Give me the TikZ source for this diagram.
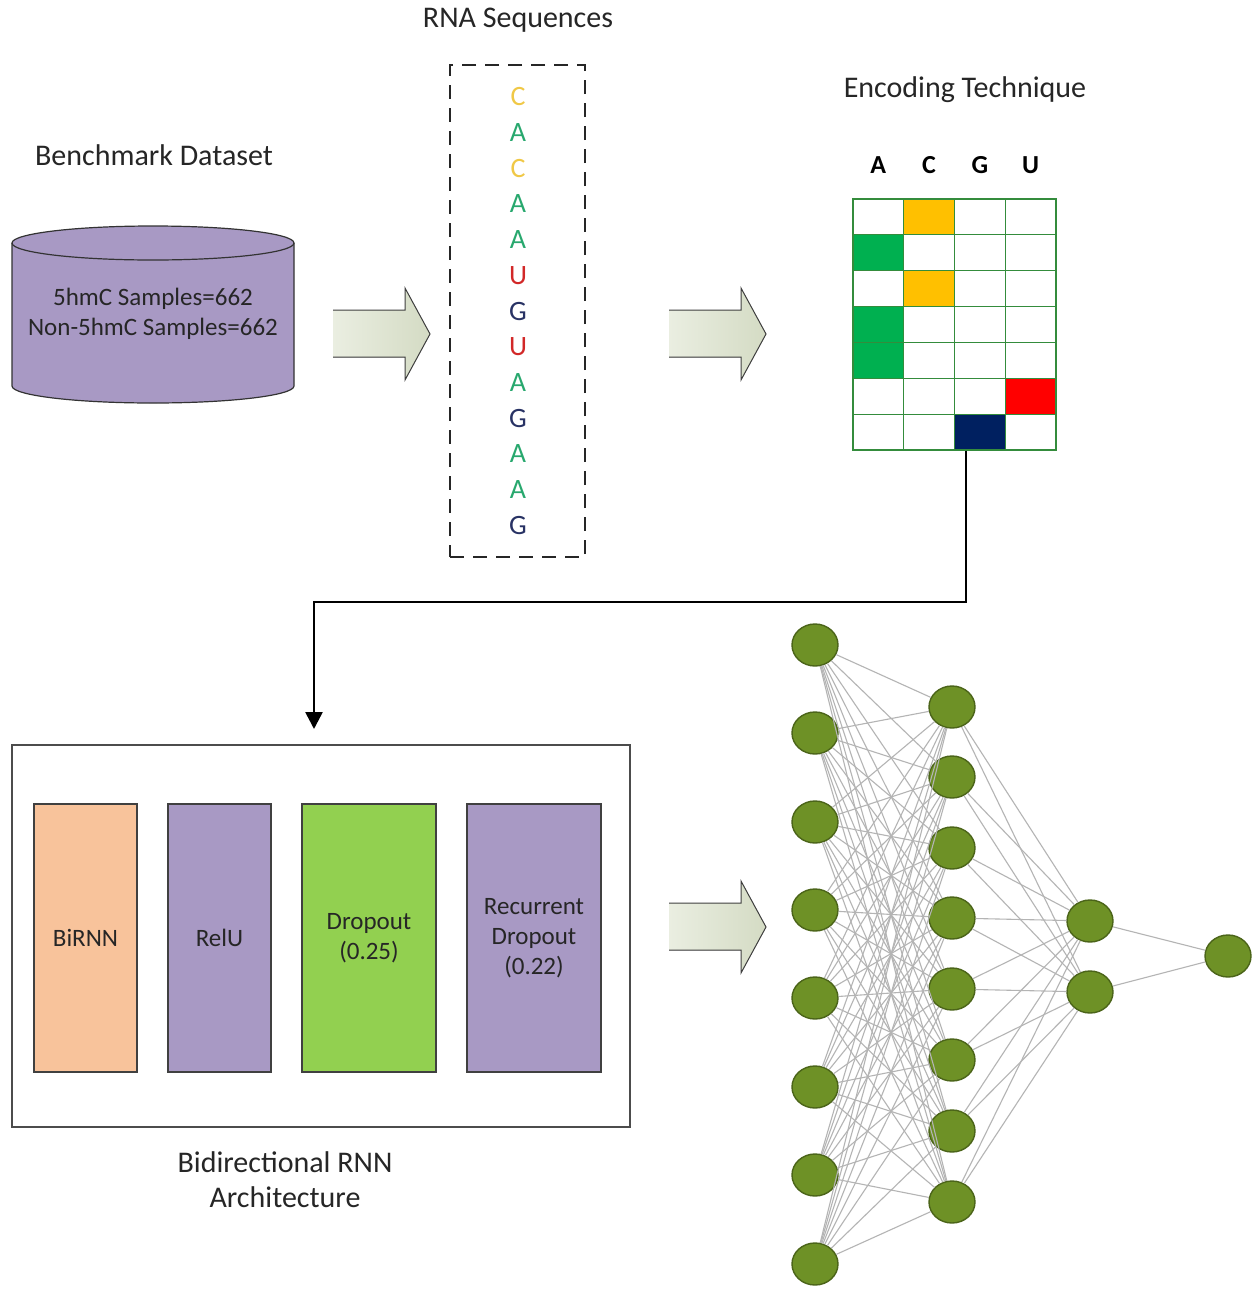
\documentclass[tikz,border=0pt]{standalone}
\usepackage{fontspec}
\setmainfont{Carlito}
\usetikzlibrary{arrows.meta,shapes.geometric}

\definecolor{txt}{RGB}{38,38,38}
\definecolor{dbpurple}{RGB}{168,153,196}
\definecolor{peach}{RGB}{248,195,155}
\definecolor{limegreen}{RGB}{146,208,80}
\definecolor{sageL}{RGB}{234,238,225}
\definecolor{sageD}{RGB}{212,219,196}
\definecolor{gridgreen}{RGB}{52,140,60}
\definecolor{cellyellow}{RGB}{255,192,0}
\definecolor{cellgreen}{RGB}{0,176,80}
\definecolor{cellred}{RGB}{255,0,0}
\definecolor{cellnavy}{RGB}{0,32,96}
\definecolor{ntC}{RGB}{240,200,70}
\definecolor{ntA}{RGB}{40,168,110}
\definecolor{ntU}{RGB}{210,40,40}
\definecolor{ntG}{RGB}{40,50,100}
\definecolor{neuron}{RGB}{110,145,38}
\definecolor{neuronedge}{RGB}{75,100,25}
\definecolor{synapse}{RGB}{180,180,180}

\tikzset{
  title/.style={text=txt, font=\fontsize{30}{36}\selectfont, inner sep=0pt},
  blockarrow/.style={left color=sageL, right color=sageD, draw=none},
  blockedge/.style={draw=black!75, line width=1pt, line join=miter},
  nt/.style={font=\fontsize{28}{32}\selectfont, inner sep=0pt},
  cell/.style={draw=gridgreen, line width=1.2pt, minimum width=50.75pt, minimum height=35.86pt, inner sep=0pt},
  head/.style={font=\bfseries\fontsize{26}{30}\selectfont, text=black, inner sep=0pt},
  layer/.style={draw=black!75, line width=1.2pt, minimum height=268pt, inner sep=0pt, align=center,
                text=txt, font=\fontsize{25}{30}\selectfont},
  neuronnode/.style={ellipse, draw=neuronedge, line width=1.4pt, fill=neuron, minimum width=46pt, minimum height=42pt, inner sep=0pt},
  synapseline/.style={draw=synapse, line width=1.1pt}
}

\begin{document}
\begin{tikzpicture}[x=1pt,y=-1pt]
\useasboundingbox[fill=white] (0,0) rectangle (1256,1291);

% ---------- benchmark dataset cylinder ----------
\node[title] (benchT) at (154,155) {Benchmark Dataset};
\fill[dbpurple] (12,243) -- (12,386) arc[start angle=180, end angle=360, x radius=141pt, y radius=17pt]
  -- (294,243) arc[start angle=0, end angle=180, x radius=141pt, y radius=17pt] -- cycle;
\draw[black!80, line width=1.2pt] (12,243) -- (12,386) arc[start angle=180, end angle=360, x radius=141pt, y radius=17pt]
  -- (294,243);
\draw[black!80, line width=1.2pt] (153,243) ellipse[x radius=141pt, y radius=17pt];
\node[text=txt, font=\fontsize{25}{30}\selectfont, align=center, inner sep=0pt] (db) at (153,314)
  {5hmC Samples=662\\Non-5hmC Samples=662};

% ---------- block arrows ----------
\foreach \ax/\ay/\nm in {333/334/arrA, 669/334/arrB, 669/927/arrC}{
  \fill[blockarrow] (\ax,\ay-24) -- (\ax+72,\ay-24) -- (\ax+72,\ay-46) -- (\ax+97,\ay)
     -- (\ax+72,\ay+46) -- (\ax+72,\ay+23) -- (\ax,\ay+23) -- cycle;
  \draw[blockedge] (\ax,\ay-24) -- (\ax+72,\ay-24) -- (\ax+72,\ay-46) -- (\ax+97,\ay)
     -- (\ax+72,\ay+46) -- (\ax+72,\ay+23) -- (\ax,\ay+23);
  \coordinate (\nm) at (\ax+48,\ay);
}

% ---------- RNA sequence ----------
\node[title] (rnaT) at (518,20) {RNA Sequences};
\node[draw=black!85, line width=2.2pt, dash pattern=on 14pt off 9pt, minimum width=135pt, minimum height=492pt] (rnabox) at (517.5,311) {};
\foreach \l/\c [count=\i from 0] in {C/ntC,A/ntA,C/ntC,A/ntA,A/ntA,U/ntU,G/ntG,U/ntU,A/ntA,G/ntG,A/ntA,A/ntA,G/ntG}{
  \node[nt, text=\c] (nt\i) at (518,97+35.67*\i) {\l};
}

% ---------- one-hot encoding grid ----------
\node[title] (encT) at (965,90) {Encoding Technique};
\foreach \h [count=\j] in {A,C,G,U}{
  \node[head] (hd\j) at (853+50.75*\j-25.4,165) {\h};
}
\foreach \r/\hot/\col in {1/2/cellyellow, 2/1/cellgreen, 3/2/cellyellow, 4/1/cellgreen, 5/1/cellgreen, 6/4/cellred, 7/3/cellnavy}{
  \foreach \c in {1,...,4}{
    \ifnum\c=\hot
      \node[cell, fill=\col] (cell-\r-\c) at (853+50.75*\c-25.375,199+35.86*\r-17.93) {};
    \else
      \node[cell, fill=white] (cell-\r-\c) at (853+50.75*\c-25.375,199+35.86*\r-17.93) {};
    \fi
  }
}

% ---------- connector to the RNN block ----------
\coordinate (bend) at (314,602);
\coordinate (rnnIn) at (314,729);
\draw[black, line width=2.6pt, -{Triangle[length=17pt,width=17pt]}]
  ([xshift=-14pt]cell-7-3.south) |- (bend) -- (rnnIn);

% ---------- bidirectional RNN architecture ----------
\node[draw=black!70, line width=1.2pt, minimum width=618pt, minimum height=382pt, inner sep=0pt] (rnnbox) at (321,936) {};
\node[layer, fill=peach, minimum width=103pt] (birnn) at (85.5,938) {BiRNN};
\node[layer, fill=dbpurple, minimum width=103pt] (relu) at (219.5,938) {RelU};
\node[layer, fill=limegreen, minimum width=134pt] (drop) at (369,938) {Dropout\\(0.25)};
\node[layer, fill=dbpurple, minimum width=134pt] (rdrop) at (534,938) {Recurrent\\Dropout\\(0.22)};
\node[text=txt, font=\fontsize{30}{35}\selectfont, align=center, inner sep=0pt] (rnnT) at (285,1180)
  {Bidirectional RNN\\Architecture};

% ---------- dense network ----------
\foreach \y [count=\i] in {645,733,822,910,998,1087,1175,1264}{
  \node[neuronnode] (n1-\i) at (815,\y) {};
}
\foreach \y [count=\i] in {707,777,848,918,989,1060,1131,1202}{
  \node[neuronnode] (n2-\i) at (952,\y) {};
}
\node[neuronnode] (n3-1) at (1090,921) {};
\node[neuronnode] (n3-2) at (1090,992) {};
\node[neuronnode] (n4-1) at (1228,956) {};

\foreach \i in {1,...,8}{
  \foreach \j in {1,...,8}{
    \draw[synapseline] (n1-\i) -- (n2-\j);
  }
  \foreach \j in {1,2}{
    \draw[synapseline] (n2-\i) -- (n3-\j);
  }
}
\foreach \j in {1,2}{
  \draw[synapseline] (n3-\j) -- (n4-1);
}
\end{tikzpicture}
\end{document}
